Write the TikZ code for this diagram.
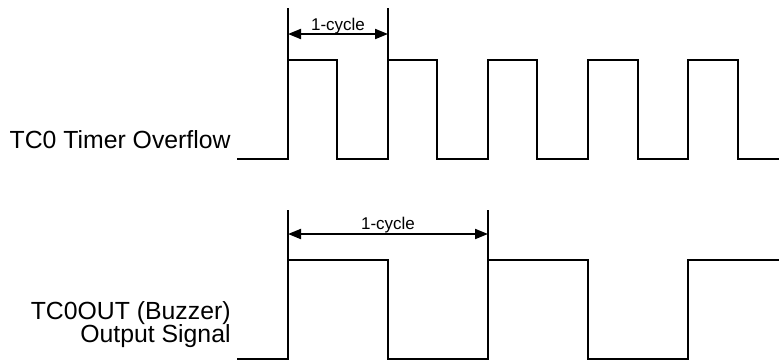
\documentclass[tikz,border=0pt]{standalone}
\usepackage{fontspec}
\setmainfont{Liberation Sans}
\usetikzlibrary{arrows.meta}
\begin{document}
\begin{tikzpicture}[x=0.5pt,y=-0.5pt,
    wave/.style={line width=1pt, line join=miter},
    tick/.style={line width=1pt},
    span/.style={line width=1pt, {Triangle[length=6.5pt,width=5pt]}-{Triangle[length=6.5pt,width=5pt]}},
    lbl/.style={font=\fontsize{12.4}{14}\selectfont, anchor=base east, inner sep=0pt},
    small/.style={font=\fontsize{8.5}{10}\selectfont, anchor=base, inner sep=0pt}]
    \useasboundingbox (0,0) rectangle (779,360);
    % timer overflow
    \draw[wave] (237,159) -| (288,60) -| (337,159) -| (388,60) -| (437,159) -| (488,60)
        -| (537,159) -| (588,60) -| (638,159) -| (688,60) -| (738,159) -- (779,159);
    \draw[tick] (288,8) -- (288,60);
    \draw[tick] (388,8) -- (388,60);
    \coordinate (ta) at (288,34);
    \coordinate (tb) at (388,34);
    \draw[span] (ta) -- (tb) node[small, midway, yshift=2pt] (tcyc) {1-cycle};
    \node[lbl] (ovf) at (231,148) {TC0 Timer Overflow};
    % buzzer output
    \draw[wave] (237,359) -| (288,260) -| (388,359) -| (488,260) -| (588,359) -| (688,260) -- (779,260);
    \draw[tick] (288,210) -- (288,260);
    \draw[tick] (488,210) -- (488,260);
    \coordinate (ba) at (288,234);
    \coordinate (bb) at (488,234);
    \draw[span] (ba) -- (bb) node[small, midway, yshift=2.5pt] (bcyc) {1-cycle};
    \node[lbl] (buz) at (231,319) {TC0OUT (Buzzer)};
    \node[lbl] (sig) at (231,342) {Output Signal};
\end{tikzpicture}
\end{document}
